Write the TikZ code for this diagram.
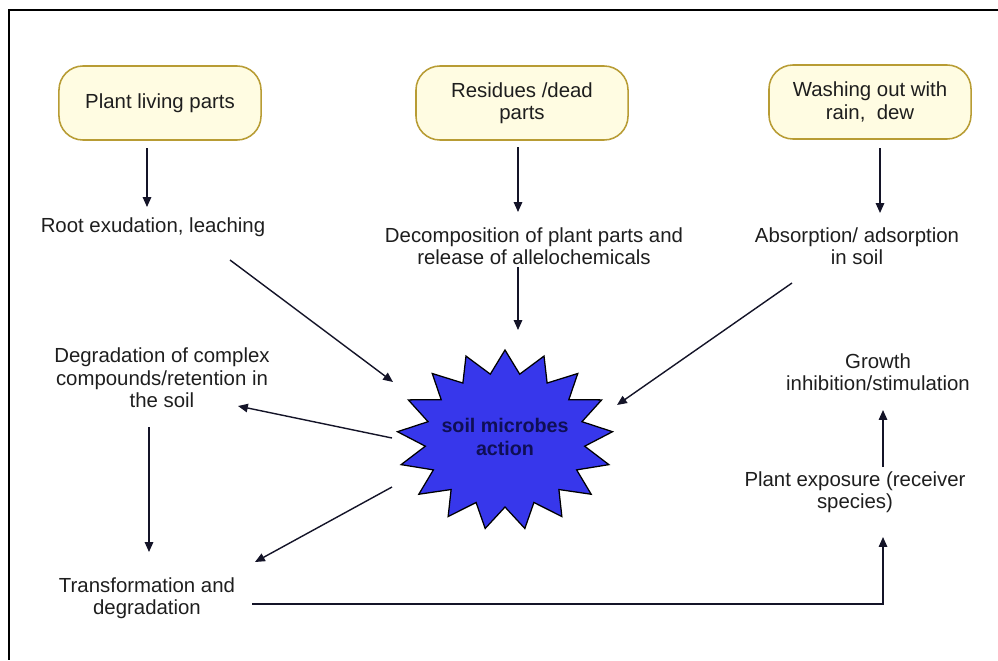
\documentclass[tikz,border=0pt]{standalone}
\usepackage{fontspec}
\setmainfont{Liberation Sans}
\usepackage{xcolor}
\usetikzlibrary{shapes.geometric, arrows.meta, positioning, calc}
\definecolor{SoilBlue}{RGB}{55, 55, 235}
\definecolor{SoilNavy}{RGB}{15, 15, 85}
\definecolor{BoxFill}{RGB}{255, 252, 226}
\definecolor{BoxBorder}{RGB}{184, 156, 52}
\definecolor{TextDark}{RGB}{30, 30, 30}
\definecolor{ArrowDark}{RGB}{20, 20, 40}

\begin{document}
\begin{tikzpicture}[x=0.025cm, y=-0.025cm,
    source/.style={rounded corners=0.6cm, fill=BoxFill, draw=BoxBorder, line width=1.1pt,
      minimum width=5.05cm, minimum height=1.85cm, align=center, text=TextDark,
      font=\fontsize{14.5}{16}\selectfont},
    stage/.style={align=center, text=TextDark, font=\fontsize{14.5}{16}\selectfont, inner sep=2pt},
    hub/.style={ellipse, minimum width=5.4cm, minimum height=4.5cm, inner sep=0pt, align=center,
      text=SoilNavy, font=\fontsize{14}{16}\selectfont\bfseries},
    flow/.style={draw=ArrowDark, line width=1pt, -{Triangle[length=7pt, width=6pt]}}]
  \useasboundingbox (0,0) rectangle (998,660);
  \draw[black, line width=1.2pt] (998,10) -- (9,10) -- (9,660);

  % sources
  \node[source] (living) at (160,103) {Plant living parts};
  \node[source, minimum width=5.3cm] (residues) at (522,103) {Residues /dead\\parts};
  \node[source] (washing) at (870,102) {Washing out with\\rain,\ \ dew};

  % release routes
  \node[stage] (rootex) at (153,227) {Root exudation, leaching};
  \node[stage] (decomp) at (534,246) {Decomposition of plant parts and\\release of allelochemicals};
  \node[stage] (absorb) at (857,246) {Absorption/ adsorption\\in soil};

  % soil microbes star
  \filldraw[fill=SoilBlue, draw=black, line width=0.9pt]
    plot[variable=\k, samples at={0,...,33}]
      ({505+ifthenelse(mod(\k,2)==0,108,80)*cos(-90+\k*360/34)},
       {440+ifthenelse(mod(\k,2)==0,90,67)*sin(-90+\k*360/34)}) -- cycle;
  \node[hub] (microbes) at (505,437) {soil microbes\\action};

  % fate in soil
  \node[stage] (degrad) at (162,378) {Degradation of complex\\compounds/retention in\\the soil};
  \node[stage] (transf) at (147,598) {Transformation and\\degradation};
  \node[stage] (exposure) at (855,492) {Plant exposure (receiver\\species)};
  \node[stage] (growth) at (878,372) {Growth\\inhibition/stimulation};

  \draw[flow] ([shift={(-13,45)}]living.center) -- ([shift={(-6,-20)}]rootex.center);
  \draw[flow] ([shift={(-4,44)}]residues.center) -- ([shift={(-16,-34)}]decomp.center);
  \draw[flow] ([shift={(10,46)}]washing.center) -- ([shift={(23,-33)}]absorb.center);
  \draw[flow] ([shift={(-16,21)}]decomp.center) -- ([shift={(13,-107)}]microbes.center);
  \draw[flow] ([shift={(77,33)}]rootex.center) -- ([shift={(-112,-55)}]microbes.center);
  \draw[flow] ([shift={(-65,37)}]absorb.center) -- ([shift={(112,-32)}]microbes.center);
  \draw[flow] ([shift={(-113,1)}]microbes.center) -- ([shift={(76,28)}]degrad.center);
  \draw[flow] ([shift={(-113,50)}]microbes.center) -- ([shift={(108,-36)}]transf.center);
  \draw[flow] ([shift={(-13,49)}]degrad.center) -- ([shift={(2,-46)}]transf.center);
  \draw[flow] ([shift={(105,6)}]transf.center) -| ([shift={(28,45)}]exposure.center);
  \draw[flow] ([shift={(28,-25)}]exposure.center) -- ([shift={(5,38)}]growth.center);
\end{tikzpicture}
\end{document}
